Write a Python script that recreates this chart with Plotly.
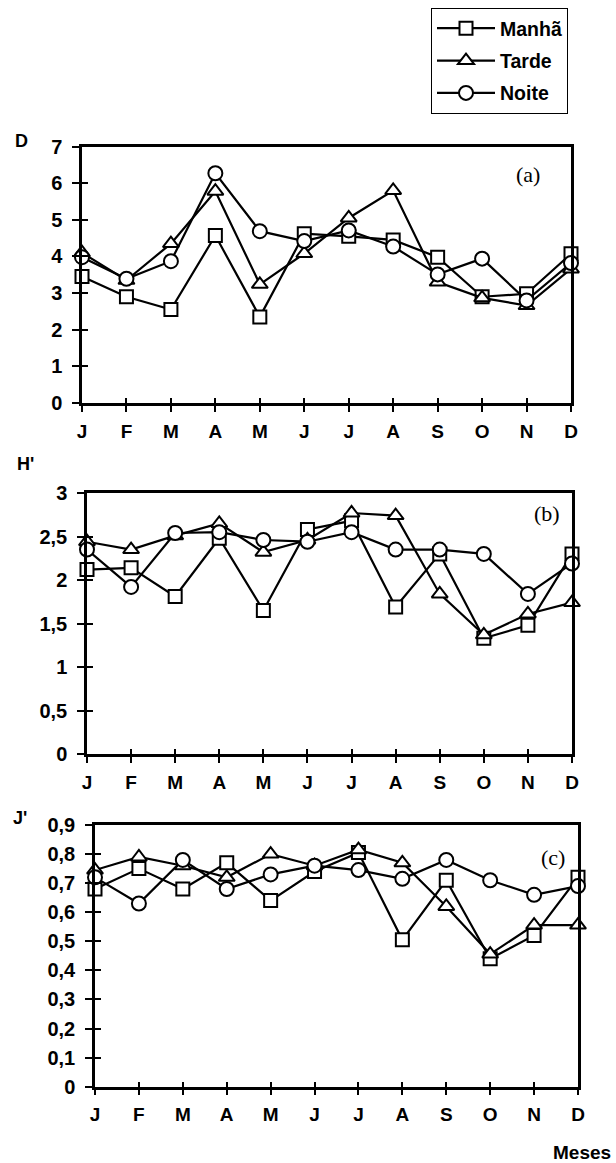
import plotly.graph_objects as go

months = ["J", "F", "M", "A", "M", "J", "J", "A", "S", "O", "N", "D"]
month_pos = list(range(len(months)))
series_names = ["Manhã", "Tarde", "Noite"]

D_manha = [3.45, 2.90, 2.55, 4.57, 2.35, 4.62, 4.55, 4.45, 3.98, 2.90, 2.98, 4.07]
D_tarde = [4.10, 3.35, 4.35, 5.78, 3.24, 4.08, 5.05, 5.80, 3.30, 2.87, 2.66, 3.66]
D_noite = [3.98, 3.39, 3.87, 6.27, 4.69, 4.42, 4.71, 4.27, 3.51, 3.94, 2.80, 3.82]

H_manha = [2.12, 2.14, 1.81, 2.48, 1.65, 2.58, 2.68, 1.69, 2.30, 1.33, 1.48, 2.30]
H_tarde = [2.44, 2.35, 2.51, 2.65, 2.32, 2.46, 2.77, 2.74, 1.84, 1.37, 1.61, 1.74]
H_noite = [2.35, 1.92, 2.54, 2.55, 2.46, 2.44, 2.55, 2.35, 2.35, 2.30, 1.84, 2.19]

J_manha = [0.68, 0.75, 0.68, 0.77, 0.64, 0.74, 0.805, 0.505, 0.71, 0.44, 0.52, 0.72]
J_tarde = [0.745, 0.79, 0.76, 0.72, 0.80, 0.76, 0.815, 0.77, 0.62, 0.456, 0.556, 0.556]
J_noite = [0.72, 0.63, 0.78, 0.68, 0.73, 0.76, 0.745, 0.715, 0.78, 0.71, 0.66, 0.69]

D_ticks = [0, 1, 2, 3, 4, 5, 6, 7]
D_ticktext = ["0", "1", "2", "3", "4", "5", "6", "7"]
H_ticks = [0, 0.5, 1, 1.5, 2, 2.5, 3]
H_ticktext = ["0", "0,5", "1", "1,5", "2", "2,5", "3"]
J_ticks = [0, 0.1, 0.2, 0.3, 0.4, 0.5, 0.6, 0.7, 0.8, 0.9]
J_ticktext = ["0", "0,1", "0,2", "0,3", "0,4", "0,5", "0,6", "0,7", "0,8", "0,9"]

W, H = 616, 1163
symbols = ["square", "triangle-up", "circle"]
sizes = [13, 14, 14]


def px_x(v):
    return v / W


def px_y(v):
    return 1 - v / H


panels = [
    dict(vals=[D_manha, D_tarde, D_noite], ticks=D_ticks, ticktext=D_ticktext, rng=[0, 7],
         xd=[px_x(82), px_x(571)], yd=[px_y(403), px_y(146.5)], label="(a)", lab_xy=(528, 174),
         title="D", title_xy=(21, 141)),
    dict(vals=[H_manha, H_tarde, H_noite], ticks=H_ticks, ticktext=H_ticktext, rng=[0, 3],
         xd=[px_x(87), px_x(572)], yd=[px_y(754), px_y(493)], label="(b)", lab_xy=(547, 514),
         title="H'", title_xy=(25, 464)),
    dict(vals=[J_manha, J_tarde, J_noite], ticks=J_ticks, ticktext=J_ticktext, rng=[0, 0.9],
         xd=[px_x(95), px_x(578)], yd=[px_y(1086.7), px_y(825)], label="(c)", lab_xy=(553, 857),
         title="J'", title_xy=(20, 818)),
]

fig = go.Figure()
bold = dict(family="Liberation Sans, Arial, sans-serif", color="black", weight="bold")

layout = dict(
    template="none",
    width=W, height=H, margin=dict(l=0, r=0, t=0, b=0, autoexpand=False),
    paper_bgcolor="white", plot_bgcolor="white", showlegend=True,
)
annotations = []

for i, p in enumerate(panels):
    n = i + 1
    xa = "x" if n == 1 else f"x{n}"
    ya = "y" if n == 1 else f"y{n}"
    for k in range(3):
        fig.add_trace(go.Scatter(
            x=month_pos, y=p["vals"][k], xaxis=xa, yaxis=ya,
            mode="lines+markers", name=series_names[k], legendgroup=series_names[k],
            showlegend=(i == 0), cliponaxis=False,
            line=dict(color="black", width=2.2),
            marker=dict(symbol=symbols[k], size=sizes[k], color="white",
                        line=dict(color="black", width=2)),
        ))
    xkey = "xaxis" if n == 1 else f"xaxis{n}"
    ykey = "yaxis" if n == 1 else f"yaxis{n}"
    layout[xkey] = dict(
        domain=p["xd"], anchor=ya, range=[0, 11], automargin=False,
        tickvals=month_pos, ticktext=months,
        showline=True, linecolor="black", linewidth=2.5, mirror=True,
        ticks="outside", ticklen=6, tickwidth=1.5, tickcolor="black",
        showgrid=False, zeroline=False, ticklabelstandoff=3,
        tickfont=dict(size=19, **bold),
    )
    layout[ykey] = dict(
        domain=p["yd"], anchor=xa, range=p["rng"], automargin=False,
        tickvals=p["ticks"], ticktext=p["ticktext"],
        showline=True, linecolor="black", linewidth=2.5, mirror=True,
        ticks="outside", ticklen=7, tickwidth=1.5, tickcolor="black",
        showgrid=False, zeroline=False, ticklabelstandoff=6,
        tickfont=dict(size=20, **bold),
    )
    # inner halves of the crossing ticks
    ox = f"x{n + 3}"
    oy = f"y{n + 3}"
    layout[f"xaxis{n + 3}"] = dict(
        overlaying=xa, anchor=ya, range=[0, 11], tickvals=month_pos, automargin=False,
        showline=False, ticks="inside", ticklen=5, tickwidth=1.5, tickcolor="black",
        showticklabels=False, showgrid=False, zeroline=False,
    )
    layout[f"yaxis{n + 3}"] = dict(
        overlaying=ya, anchor=xa, range=p["rng"], tickvals=p["ticks"], automargin=False,
        showline=False, ticks="inside", ticklen=6, tickwidth=1.5, tickcolor="black",
        showticklabels=False, showgrid=False, zeroline=False,
    )
    fig.add_trace(go.Scatter(x=[month_pos[0]], y=[p["rng"][0]], xaxis=ox, yaxis=oy,
                             mode="markers", marker=dict(opacity=0), showlegend=False,
                             hoverinfo="skip"))
    annotations.append(dict(
        text=p["label"], xref="paper", yref="paper", x=px_x(p["lab_xy"][0]), y=px_y(p["lab_xy"][1]),
        xanchor="center", yanchor="middle", showarrow=False,
        font=dict(family="Liberation Serif, Times New Roman, serif", size=22, color="black"),
    ))
    annotations.append(dict(
        text=p["title"], xref="paper", yref="paper", x=px_x(p["title_xy"][0]), y=px_y(p["title_xy"][1]),
        xanchor="center", yanchor="middle", showarrow=False,
        font=dict(size=18, **bold),
    ))

annotations.append(dict(
    text="Meses", xref="paper", yref="paper", x=px_x(582), y=px_y(1152),
    xanchor="center", yanchor="middle", showarrow=False, font=dict(size=19, **bold),
))

layout["annotations"] = annotations
layout["legend"] = dict(
    x=px_x(431), y=px_y(8), xanchor="left", yanchor="top",
    bordercolor="black", borderwidth=1, bgcolor="white",
    font=dict(size=19.5, **bold), tracegroupgap=4, itemwidth=58,
)
fig.update_layout(**layout)

fig.write_html("out.html")
